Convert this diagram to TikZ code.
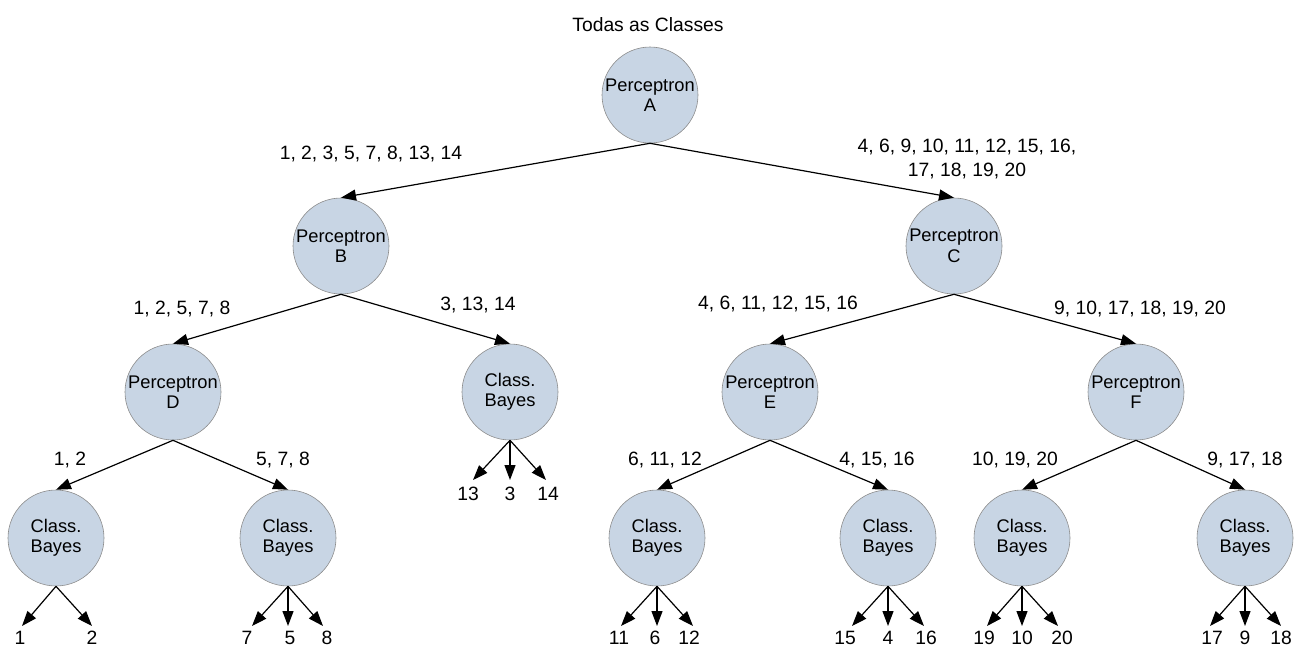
\documentclass[tikz,border=0pt]{standalone}
\usepackage{fontspec}
\setmainfont{Liberation Sans}
\usetikzlibrary{arrows.meta}
\definecolor{nodefill}{RGB}{200,213,228}
\definecolor{nodeline}{RGB}{140,140,140}
\tikzset{
  clf/.style={circle, draw=nodeline, line width=0.6pt, fill=nodefill, minimum size=96pt, inner sep=0pt, align=center, font=\fontsize{18.3}{20.5}\selectfont},
  lbl/.style={inner sep=0pt, align=center, font=\fontsize{19.3}{24}\selectfont},
  arr/.style={line width=1.2pt, -{Triangle[length=15pt,width=11pt]}}
}
\begin{document}
\begin{tikzpicture}[x=1pt,y=-1pt]
\useasboundingbox (0,0) rectangle (1298,648);
\node[lbl] (title) at (648,25) {Todas as Classes};
\node[clf] (A) at (650,95) {Perceptron\\A};
\node[clf] (B) at (341,246) {Perceptron\\B};
\node[clf] (C) at (954,246) {Perceptron\\C};
\node[clf] (D) at (173,392) {Perceptron\\D};
\node[clf] (M) at (510,392) {Class.\\Bayes};
\node[clf] (E) at (770,392) {Perceptron\\E};
\node[clf] (F) at (1136,392) {Perceptron\\F};
\node[clf] (L1) at (56,538) {Class.\\Bayes};
\node[clf] (L2) at (288,538) {Class.\\Bayes};
\node[clf] (L3) at (657,538) {Class.\\Bayes};
\node[clf] (L4) at (888,538) {Class.\\Bayes};
\node[clf] (L5) at (1022,538) {Class.\\Bayes};
\node[clf] (L6) at (1245,538) {Class.\\Bayes};
% edge labels
\node[lbl] (eAB) at (371,154) {1, 2, 3, 5, 7, 8, 13, 14};
\node[lbl] (eAC) at (967,159) {4, 6, 9, 10, 11, 12, 15, 16,\\17, 18, 19, 20};
\node[lbl] (eBD) at (182,309) {1, 2, 5, 7, 8};
\node[lbl] (eBM) at (478,305) {3, 13, 14};
\node[lbl] (eCE) at (778,304) {4, 6, 11, 12, 15, 16};
\node[lbl] (eCF) at (1140,309) {9, 10, 17, 18, 19, 20};
\node[lbl] (eD1) at (70,460) {1, 2};
\node[lbl] (eD2) at (283,460) {5, 7, 8};
\node[lbl] (eE1) at (665,460) {6, 11, 12};
\node[lbl] (eE2) at (877,460) {4, 15, 16};
\node[lbl] (eF1) at (1015,460) {10, 19, 20};
\node[lbl] (eF2) at (1245,460) {9, 17, 18};
% tree edges
\draw[arr] (A.south) -- (B.north);
\draw[arr] (A.south) -- (C.north);
\draw[arr] (B.south) -- (D.north);
\draw[arr] (B.south) -- (M.north);
\draw[arr] (C.south) -- (E.north);
\draw[arr] (C.south) -- (F.north);
\draw[arr] (D.south) -- (L1.north);
\draw[arr] (D.south) -- (L2.north);
\draw[arr] (E.south) -- (L3.north);
\draw[arr] (E.south) -- (L4.north);
\draw[arr] (F.south) -- (L5.north);
\draw[arr] (F.south) -- (L6.north);
% leaf outputs: middle Bayes
\coordinate (m1) at (473,480); \coordinate (m2) at (510,480); \coordinate (m3) at (546,480);
\draw[arr] (M.south) -- (m1); \draw[arr] (M.south) -- (m2); \draw[arr] (M.south) -- (m3);
\node[lbl] (o13) at (468,494) {13}; \node[lbl] (o3) at (510,494) {3}; \node[lbl] (o14) at (548,494) {14};
% L1
\coordinate (a1) at (22,626); \coordinate (a2) at (92,626);
\draw[arr] (L1.south) -- (a1); \draw[arr] (L1.south) -- (a2);
\node[lbl] (o1) at (20,638) {1}; \node[lbl] (o2) at (92,638) {2};
% L2
\coordinate (b1) at (252,626); \coordinate (b2) at (288,626); \coordinate (b3) at (323,626);
\draw[arr] (L2.south) -- (b1); \draw[arr] (L2.south) -- (b2); \draw[arr] (L2.south) -- (b3);
\node[lbl] (o7) at (247,638) {7}; \node[lbl] (o5) at (290,638) {5}; \node[lbl] (o8) at (327,638) {8};
% L3
\coordinate (c1) at (621,626); \coordinate (c2) at (657,626); \coordinate (c3) at (693,626);
\draw[arr] (L3.south) -- (c1); \draw[arr] (L3.south) -- (c2); \draw[arr] (L3.south) -- (c3);
\node[lbl] (o11) at (619,638) {11}; \node[lbl] (o6) at (655,638) {6}; \node[lbl] (o12) at (689,638) {12};
% L4
\coordinate (d1) at (852,626); \coordinate (d2) at (888,626); \coordinate (d3) at (924,626);
\draw[arr] (L4.south) -- (d1); \draw[arr] (L4.south) -- (d2); \draw[arr] (L4.south) -- (d3);
\node[lbl] (o15) at (845,638) {15}; \node[lbl] (o4) at (888,638) {4}; \node[lbl] (o16) at (926,638) {16};
% L5
\coordinate (f1) at (987,626); \coordinate (f2) at (1022,626); \coordinate (f3) at (1058,626);
\draw[arr] (L5.south) -- (f1); \draw[arr] (L5.south) -- (f2); \draw[arr] (L5.south) -- (f3);
\node[lbl] (o19) at (984,638) {19}; \node[lbl] (o10) at (1022,638) {10}; \node[lbl] (o20) at (1062,638) {20};
% L6
\coordinate (g1) at (1210,626); \coordinate (g2) at (1245,626); \coordinate (g3) at (1281,626);
\draw[arr] (L6.south) -- (g1); \draw[arr] (L6.south) -- (g2); \draw[arr] (L6.south) -- (g3);
\node[lbl] (o17) at (1212,638) {17}; \node[lbl] (o9) at (1245,638) {9}; \node[lbl] (o18) at (1281,638) {18};
\end{tikzpicture}
\end{document}
